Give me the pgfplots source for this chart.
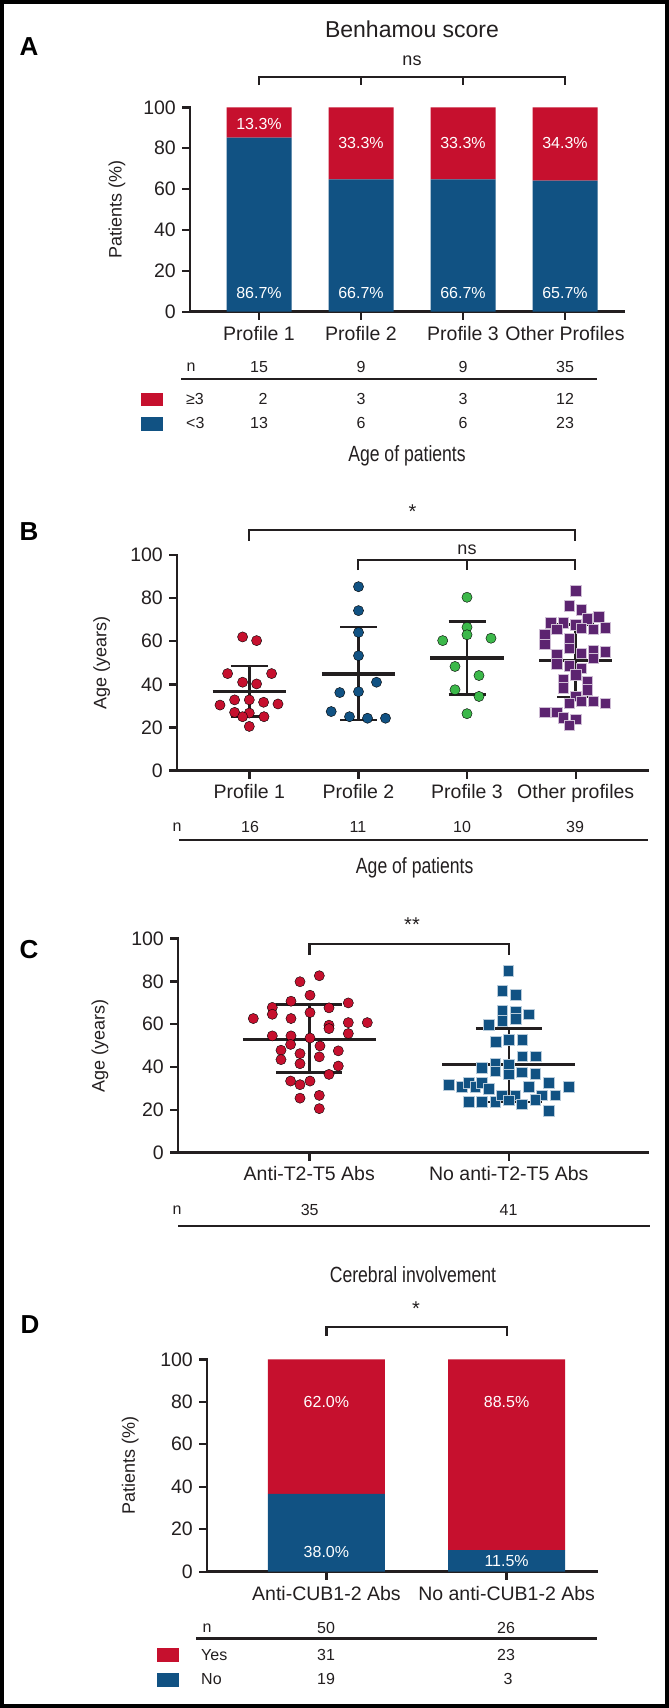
\documentclass[border=0pt]{standalone}
\usepackage{fontspec}
\setmainfont{Liberation Sans}
\usepackage{graphicx}
\usepackage{pgfplots}
\pgfplotsset{compat=1.18}

\definecolor{myred}{RGB}{198,16,46}
\definecolor{myblue}{RGB}{17,82,131}
\definecolor{mygreen}{RGB}{60,184,74}
\definecolor{mypurple}{RGB}{92,36,112}
\definecolor{ink}{RGB}{35,31,32}
\newcommand{\fs}[1]{\fontsize{#1}{#1}\selectfont}
\newcommand{\cond}[2]{\scalebox{0.8}[1]{\fs{#1}#2}}

\pgfplotsset{
  panel/.style={
    scale only axis, clip=false,
    axis x line*=bottom, axis y line*=left,
    axis line style={-, ink, line width=2.6pt, line cap=rect},
    tick style={ink, line width=2.4pt},
    major tick length=8pt,
    tick align=outside,
    ymin=0, ymax=100, ytick={0,20,...,100},
    enlargelimits=false,
    /pgf/number format/assume math mode=true,
    ticklabel style={font=\fs{19.5}, text=ink},
    xticklabel style={inner sep=0pt, anchor=north, yshift=-6pt},
    yticklabel style={inner sep=0pt, anchor=east, xshift=-6pt},
  },
  ylab/.style={every axis y label/.style={at={(axis description cs:#1,0.5)}, rotate=90, anchor=center, font=\fs{18}, text=ink}},
  dot/.style={only marks, mark=*, mark size=5.1pt, mark options={draw=none, fill=#1}},
  sq/.style={only marks, mark=square*, mark size=5.3pt, mark options={fill=#1, draw=white!70!#1, line width=0.5pt}},
  ebar/.style={ink, line width=2.6pt},
  mbar/.style={ink, line width=3.2pt},
}
\tikzset{pct/.style={font=\fs{16}, text=white}}

\begin{document}
\begin{tikzpicture}
\begin{scope}[x=1pt,y=-1pt]
\useasboundingbox (0,0) rectangle (669,1708);
\fill[white] (0,0) rectangle (669,1708);
\draw[black, line width=4pt] (2,2) rectangle (667,1706);

% ---------- Panel A annotations
\node[font=\fs{26}\bfseries] at (29,47) {A};
\node[font=\fs{23}, text=ink] at (412,29) {Benhamou score};
\node[font=\fs{18}, text=ink] at (412,61) {ns};
\draw[ink, line width=2.4pt] (259,85)--(259,77)--(565,77)--(565,85);
\draw[ink, line width=2.4pt] (361,77)--(361,85) (463,77)--(463,85);
\begin{scope}[font=\fs{16}, text=ink]
\node at (191,366.7) {n};
\node at (259,366.7) {15}; \node at (361,366.7) {9}; \node at (463,366.7) {9}; \node at (565,366.7) {35};
\draw[ink, line width=2.4pt] (181,379)--(597,379);
\fill[myred] (141,392.7) rectangle (163,406);
\node[anchor=west, inner sep=0pt] at (186,399.3) {≥3};
\node at (263,399.3) {2}; \node at (361,399.3) {3}; \node at (463,399.3) {3}; \node at (565,399.3) {12};
\fill[myblue] (141,417.3) rectangle (163,430.7);
\node[anchor=west, inner sep=0pt] at (186,423.3) {<3};
\node at (259,423.3) {13}; \node at (361,423.3) {6}; \node at (463,423.3) {6}; \node at (565,423.3) {23};
\end{scope}
\node[text=ink] at (407,456) {\cond{22}{Age of patients}};

% ---------- Panel B annotations
\node[font=\fs{26}\bfseries] at (29,532) {B};
\node[font=\fs{20}, text=ink] at (412.5,512) {*};
\draw[ink, line width=2.4pt] (249,540.7)--(249,530)--(575,530)--(575,540.7);
\node[font=\fs{18}, text=ink] at (467,550) {ns};
\draw[ink, line width=2.4pt] (358,570)--(358,560)--(575,560)--(575,570);
\draw[ink, line width=2.4pt] (467,560)--(467,570);
\begin{scope}[font=\fs{16}, text=ink]
\node at (177,827) {n};
\node at (250,827) {16}; \node at (358,827) {11}; \node at (462,827) {10}; \node at (575,827) {39};
\draw[ink, line width=2.4pt] (179,840)--(648,840);
\end{scope}
\node[text=ink] at (414.7,868) {\cond{22}{Age of patients}};

% ---------- Panel C annotations
\node[font=\fs{26}\bfseries] at (29,950) {C};
\node[font=\fs{20}, text=ink] at (412,925) {**};
\draw[ink, line width=2.4pt] (309.3,955)--(309.3,944)--(509,944)--(509,955);
\begin{scope}[font=\fs{16}, text=ink]
\node at (177,1209.8) {n};
\node at (309.7,1209.8) {35}; \node at (508.5,1209.8) {41};
\draw[ink, line width=2.4pt] (178,1225.8)--(650,1225.8);
\end{scope}

% ---------- Panel D annotations
\node[text=ink] at (413,1275) {\cond{22}{Cerebral involvement}};
\node[font=\fs{26}\bfseries] at (30,1324.4) {D};
\node[font=\fs{20}, text=ink] at (416,1309) {*};
\draw[ink, line width=2.4pt] (326.4,1335.8)--(326.4,1326.9)--(506.8,1326.9)--(506.8,1335.8);
\begin{scope}[font=\fs{16}, text=ink]
\node at (207,1627.7) {n};
\node at (326,1627.7) {50}; \node at (506,1627.7) {26};
\draw[ink, line width=2.4pt] (196,1638.3)--(597,1638.3);
\fill[myred] (156.6,1648) rectangle (179,1661.7);
\node[anchor=west, inner sep=0pt] at (201,1655) {Yes};
\node at (326,1655) {31}; \node at (506,1655) {23};
\fill[myblue] (156.6,1672.7) rectangle (179,1686.7);
\node[anchor=west, inner sep=0pt] at (201,1679.3) {No};
\node at (326,1679.3) {19}; \node at (508,1679.3) {3};
\end{scope}
\end{scope}

% ================= Axis A
\begin{axis}[panel, at={(190pt,-311.7pt)}, anchor=south west,
  width=434pt, height=204.4pt, xmin=190, xmax=624,
  ybar stacked, bar width=65,
  xtick={259,361,463,565},
  xticklabels={Profile 1, Profile 2, Profile 3, Other Profiles},
  ylabel={Patients (\%)}, ylab=-0.168,
]
\addplot[fill=myblue, draw=none] coordinates {(259,85.2) (361,64.8) (463,64.8) (565,64.1)};
\addplot[fill=myred, draw=none] coordinates {(259,14.8) (361,35.2) (463,35.2) (565,35.9)};
\coordinate (a1) at (axis cs:259,91.8);
\coordinate (a2) at (axis cs:361,82.7);
\coordinate (a3) at (axis cs:463,82.7);
\coordinate (a4) at (axis cs:565,82.7);
\coordinate (b1) at (axis cs:259,9.3);
\coordinate (b2) at (axis cs:361,9.3);
\coordinate (b3) at (axis cs:463,9.3);
\coordinate (b4) at (axis cs:565,9.3);
\end{axis}
\node[pct] at (a1) {13.3\%};
\node[pct] at (a2) {33.3\%};
\node[pct] at (a3) {33.3\%};
\node[pct] at (a4) {34.3\%};
\node[pct] at (b1) {86.7\%};
\node[pct] at (b2) {66.7\%};
\node[pct] at (b3) {66.7\%};
\node[pct] at (b4) {65.7\%};

% ================= Axis B
\begin{axis}[panel, at={(177pt,-770.6pt)}, anchor=south west,
  width=471pt, height=215.6pt, xmin=177, xmax=648,
  xtick={249.3,358.5,467,575.7},
  xticklabels={Profile 1, Profile 2, Profile 3, Other profiles},
  ylabel={Age (years)}, ylab=-0.16,
]
\addplot[dot=myred] coordinates {
(242.6,62) (256.6,60.3) (227.6,45) (271.6,45) (242.6,41) (256.6,40.2)
(220,30.4) (234.6,32.8) (249.3,32.8) (263.6,31.7) (278,30.9)
(234.6,27) (249.3,26.7) (242.6,25) (264,25) (249.3,20.5)};
\addplot[dot=myblue] coordinates {
(358.5,85.3) (358.5,74.2) (358.5,64.1) (358.5,53.3) (376.5,41) (339.8,36.2)
(358.5,36.6) (331.2,27.4) (349.5,25) (367.5,24.3) (385.5,24.3)};
\addplot[dot=mygreen] coordinates {
(467,80.4) (467,66.5) (467,63) (442.7,60.3) (491,61.4) (455,48.3)
(479,44.1) (455,37.5) (479,34.4) (467,26.4)};
\addplot[sq=mypurple] coordinates {
(575.7,83.5) (569.4,76.4) (581.4,74.5) (587.4,70.5) (599,71.4) (551,68.7)
(563.4,68.7) (575.7,67.6) (581.4,66.1) (593.4,65.6) (605.4,66.4) (556.7,65.6)
(545,63.3) (569.4,61.1) (545,58.6) (569.4,56.8) (581.4,54.5) (593.4,55.6)
(605.4,55.2) (556.7,53.7) (556.7,49.5) (569.4,48.6) (581.4,47.5) (593.4,52.2)
(575.7,44.4) (563.4,42.1) (563.4,38.3) (587.4,41.3) (587.4,37.5) (575.7,34.4)
(569.4,31.3) (581.4,32.1) (593.4,32.1) (605.4,31.3) (545,27) (556.7,27)
(563.4,24.5) (575.7,23.9) (569.4,21)};
\addplot[ebar] coordinates {(249.3,25.1) (249.3,48.6)};
\addplot[ebar] coordinates {(230.8,48.6) (267.8,48.6)};
\addplot[ebar] coordinates {(230.8,25.1) (267.8,25.1)};
\addplot[mbar] coordinates {(212.6,36.6) (286,36.6)};
\addplot[ebar] coordinates {(358.5,23.5) (358.5,66.6)};
\addplot[ebar] coordinates {(340,66.6) (377,66.6)};
\addplot[ebar] coordinates {(340,23.5) (377,23.5)};
\addplot[mbar] coordinates {(321.8,44.8) (395.2,44.8)};
\addplot[ebar] coordinates {(467,35.2) (467,69.1)};
\addplot[ebar] coordinates {(448.5,69.1) (485.5,69.1)};
\addplot[ebar] coordinates {(448.5,35.2) (485.5,35.2)};
\addplot[mbar] coordinates {(430.3,52.2) (503.7,52.2)};
\addplot[ebar] coordinates {(575.7,34.1) (575.7,67.9)};
\addplot[ebar] coordinates {(557.2,67.9) (594.2,67.9)};
\addplot[ebar] coordinates {(557.2,34.1) (594.2,34.1)};
\addplot[mbar] coordinates {(539,50.9) (612.4,50.9)};
\end{axis}

% ================= Axis C
\begin{axis}[panel, at={(178pt,-1152.5pt)}, anchor=south west,
  width=470pt, height=214pt, xmin=178, xmax=648,
  xtick={309.3,508.8},
  xticklabels={Anti-T2-T5 Abs, No anti-T2-T5 Abs},
  ylabel={Age (years)}, ylab=-0.166,
]
\addplot[dot=myred] coordinates {
(319.3,82.6) (300,79.8) (310,73.5) (291,70.7) (348.3,69.9) (272.3,67.8) (329,67.6)
(272.3,64.6) (310,65.4) (253.3,62.6) (291,62.6) (329,59.5) (329,57.9) (348.3,60.7)
(367.3,60.7) (348.3,55.6) (272.3,54.5) (291,54.5) (310,53.5) (320,49.8) (281,47.8)
(300,46.2) (338.3,47.5) (281,43.4) (319.3,44.7) (300,41.5) (338.3,40.4) (329,36.5)
(290.6,33.4) (300,31.7) (310,33.4) (300,25.4) (319.3,26.7) (319.3,20.5) (290.6,50.5)};
\addplot[sq=myblue] coordinates {
(508.1,84.8) (502.1,75.6) (515.5,73.8) (502.1,66.2) (515.5,65.7) (515.5,62.5) (528.8,64.6)
(502.1,61.5) (488.8,59.8) (495.5,51.7) (508.8,52.8) (522.1,52.8) (522.1,45) (535.5,45)
(481.8,39.7) (495.1,41.5) (495.1,38) (508.8,41) (508.8,36.5) (521.8,37.6) (535.1,36.8)
(448.5,31.7) (461.8,30.6) (468.5,32.5) (475.1,30.6) (481.8,32.5) (488.5,29.8) (528.5,30.6)
(548.5,32.6) (568.5,30.6) (555.1,26.7) (541.8,26.7) (468.5,23.6) (481.8,23.6) (495.1,23.6)
(501.8,26.7) (515.1,26.7) (508.8,24.4) (521.8,22.5) (535.1,24.7) (548.5,19.4)};
\addplot[ebar] coordinates {(309.3,37.3) (309.3,69.2)};
\addplot[ebar] coordinates {(276.3,69.2) (342.3,69.2)};
\addplot[ebar] coordinates {(276.3,37.3) (342.3,37.3)};
\addplot[mbar] coordinates {(242.8,52.9) (375.8,52.9)};
\addplot[ebar] coordinates {(508.8,23.6) (508.8,57.9)};
\addplot[ebar] coordinates {(475.8,57.9) (541.8,57.9)};
\addplot[ebar] coordinates {(475.8,23.6) (541.8,23.6)};
\addplot[mbar] coordinates {(442.3,41.1) (575.3,41.1)};
\end{axis}

% ================= Axis D
\begin{axis}[panel, at={(207pt,-1571.7pt)}, anchor=south west,
  width=390pt, height=212.4pt, xmin=207, xmax=597,
  ybar stacked, bar width=117,
  xtick={326.4,506.6},
  xticklabels={Anti-CUB1-2 Abs, No anti-CUB1-2 Abs},
  ylabel={Patients (\%)}, ylab=-0.197,
]
\addplot[fill=myblue, draw=none] coordinates {(326.4,36.6) (506.6,10.2)};
\addplot[fill=myred, draw=none] coordinates {(326.4,63.4) (506.6,89.8)};
\coordinate (d1) at (axis cs:326.4,79.9);
\coordinate (d2) at (axis cs:506.6,79.9);
\coordinate (d3) at (axis cs:326.4,9.3);
\coordinate (d4) at (axis cs:506.6,5.0);
\end{axis}
\node[pct] at (d1) {62.0\%};
\node[pct] at (d2) {88.5\%};
\node[pct] at (d3) {38.0\%};
\node[pct] at (d4) {11.5\%};
\end{tikzpicture}
\end{document}
